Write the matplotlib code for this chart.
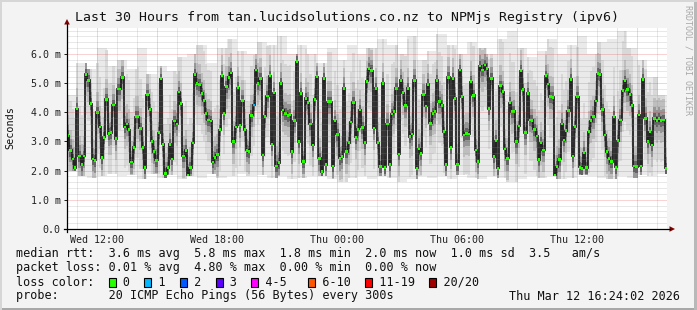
import matplotlib
matplotlib.use("Agg")
import matplotlib.pyplot as plt
from matplotlib.patches import Rectangle, Polygon
from matplotlib.lines import Line2D
import numpy as np

# ---------------- data ----------------
title = "Last 30 Hours from tan.lucidsolutions.co.nz to NPMjs Registry (ipv6)"
y_label = "Seconds"
span_hours = 30.0
x_tick_hours = [1.5, 7.5, 13.5, 19.5, 25.5]
x_tick_labels = ["Wed 12:00", "Wed 18:00", "Thu 00:00", "Thu 06:00", "Thu 12:00"]
y_tick_values = [0, 1, 2, 3, 4, 5, 6]
y_tick_labels = ["0.0", "1.0 m", "2.0 m", "3.0 m", "4.0 m", "5.0 m", "6.0 m"]

# median rtt per sample (ms), read left to right
median_ms = [
    3.2, 2.7, 2.4, 2.1, 4.13, 2.5, 2.2, 2.5, 5.3, 5.1, 4.3, 2.4, 2.35, 4.0, 3.5, 2.45,
    3.14, 4.45, 3.27, 3.3, 4.25, 3.1, 4.8, 4.8, 5.2, 3.5, 3.6, 3.4, 2.3, 2.8, 3.85, 3.85,
    3.45, 2.8, 2.1, 4.6, 4.1, 3.0, 2.65, 2.35, 3.3, 5.15, 2.9, 1.9, 2.1, 2.9, 2.4, 3.7,
    3.6, 4.7, 4.3, 2.5, 2.7, 1.85, 2.1, 2.95, 5.3, 5.0, 4.95, 4.65, 4.4, 3.97, 3.74, 3.7,
    2.3, 2.45, 2.55, 3.4, 5.25, 3.97, 4.88, 5.2, 5.35, 2.99, 3.5, 4.85, 3.55, 4.4, 3.4, 2.7,
    2.65, 3.9, 4.25, 5.45,
    5.0, 5.16, 2.54, 3.87, 4.56, 5.25, 2.91, 4.67, 2.16, 2.27, 5.0, 4.08, 3.96, 3.9, 3.92, 2.65,
    3.71, 5.74, 2.99, 4.65, 2.31, 4.48, 4.33, 3.6, 2.88, 4.45, 5.22, 2.42, 1.96, 5.16, 2.2, 4.36,
    4.36, 2.16, 3.71, 3.24, 2.42, 2.48, 4.82, 2.65, 2.96, 3.67, 4.34, 3.14, 3.42, 4.08, 3.49, 2.96,
    5.07, 5.5, 5.43, 3.46, 4.82, 2.96, 2.14, 4.99, 2.12, 3.6, 2.2, 3.94, 4.02, 4.82, 2.57, 5.1,
    4.67, 4.24, 4.82, 3.17, 3.26, 5.1, 2.08, 2.74, 2.59,
    4.6, 4.22, 4.96, 3.62, 3.96, 4.02, 5.1, 4.36, 4.24, 3.33, 2.2, 5.2, 2.8, 5.16, 4.48, 2.22,
    5.45, 4.53, 3.22, 3.28, 3.26, 5.05, 4.59, 2.71, 2.31, 5.59, 5.45, 5.62, 5.5, 4.13, 5.16, 2.48,
    3.03, 2.08, 4.91, 4.71, 2.74, 2.42, 4.33, 4.02, 4.04, 2.99, 3.53, 5.43, 4.79, 3.3, 4.65, 3.74,
    3.72, 3.42, 3.19, 2.37, 2.96, 2.71, 5.25, 4.97, 4.53, 4.51, 1.85, 2.14, 2.39, 3.6, 3.05, 3.37,
    4.05, 5.13, 2.5, 3.51, 4.53, 2.12, 2.08, 2.62, 2.1, 3.33, 3.71, 3.85, 4.39, 5.33, 5.3, 4.1,
    3.22, 2.65, 2.42, 2.31, 3.85, 2.12, 3.03, 3.74, 4.74, 5.08, 4.79, 4.62, 4.24, 2.16, 2.14, 3.91,
    2.16, 5.13, 3.79, 2.99, 3.33, 2.88, 3.79, 3.71, 3.79, 3.71, 3.74, 2.08,
]
# samples with packet loss (index, lost pings)
loss_sample_index = [82]
loss_sample_count = [1]

# smoke envelope per half hour (ms)
smoke_hi_ms = [
    4.6, 5.7, 5.5, 6.2, 5.6, 5.8, 5.5, 6.2, 5.3, 5.6, 5.4, 5.9, 6.0, 6.3, 5.7, 6.2,
    6.5, 6.1, 6.0, 6.4, 6.3, 6.6, 6.0, 6.3, 6.0, 5.7, 6.2, 5.8, 6.3, 6.0, 6.2, 6.5,
    6.3, 6.0, 6.6, 5.8, 6.1, 6.7, 6.3, 6.0, 6.4, 6.2, 6.0, 6.5, 6.8, 6.2, 5.9, 6.1,
    6.5, 6.0, 6.3, 6.6, 6.0, 6.4, 6.5, 6.8, 6.2, 5.8, 5.2, 4.6,
]
smoke_lo_ms = [
    2.0, 1.8, 1.75, 1.8, 1.9, 1.8, 1.85, 1.7, 1.9, 1.75, 1.85, 1.7, 1.8, 1.75, 1.9, 1.75,
    1.8, 1.9, 1.8, 1.85, 1.75, 1.8, 1.7, 1.75, 1.8, 1.8, 1.7, 1.6, 1.75, 1.8, 1.7, 1.8,
    1.75, 1.6, 1.7, 1.8, 1.75, 1.8, 1.7, 1.85, 1.75, 1.7, 1.8, 1.75, 1.6, 1.7, 1.8, 1.75,
    1.8, 1.7, 1.75, 1.85, 1.8, 1.75, 1.7, 1.8, 1.75, 1.85, 1.8, 1.9,
]

rtt_stats = ["3.6 ms avg", "5.8 ms max", "1.8 ms min", "2.0 ms now", "1.0 ms sd", "3.5   am/s"]
loss_stats = ["0.01 % avg", "4.80 % max", "0.00 % min", "0.00 % now"]
loss_labels = ["0", "1", "2", "3", "4-5", "6-10", "11-19", "20/20"]
loss_colors = ["#26ff00", "#00b8ff", "#0059ff", "#5e00ff", "#ff00ff", "#ff5500", "#ff0000", "#a00000"]
probe_text = "20 ICMP Echo Pings (56 Bytes) every 300s"
stamp_text = "Thu Mar 12 16:24:02 2026"
side_text = "RRDTOOL / TOBI OETIKER"

# ---------------- layout ----------------
W, H, DPI = 697, 310, 100
MONO = "DejaVu Sans Mono"
plt.rcParams["font.family"] = [MONO, "DejaVu Sans"]

def fx(px):
    return px / W

def fy(py):
    return 1 - py / H

fig = plt.figure(figsize=(W / DPI, H / DPI), dpi=DPI, facecolor="#F3F3F3")

L, R, T, B = 67, 667, 28, 229
ax = fig.add_axes([fx(L), fy(B), (R - L) / W, (B - T) / H])
ax.set_facecolor("white")
ymax = (B - T) / 29.17
ax.set_xlim(0, span_hours)
ax.set_ylim(0, ymax)
for s in ax.spines.values():
    s.set_visible(False)

med = np.array(median_ms)
n = len(med)
edges = np.linspace(0, span_hours, n + 1)
dt = edges[1] - edges[0]
left = edges[:-1]
mid = left + dt / 2

# smoke: faint half-hour envelope + per-sample graded streaks clipped to it
sedges = np.linspace(0, span_hours, len(smoke_hi_ms) + 1)
ax.stairs(smoke_hi_ms, sedges, baseline=smoke_lo_ms, fill=True, color="#EAEAEA", lw=0, zorder=1)
bin_of = np.minimum((mid / (sedges[1] - sedges[0])).astype(int), len(smoke_hi_ms) - 1)
s_hi = np.array(smoke_hi_ms)[bin_of]
s_lo = np.array(smoke_lo_ms)[bin_of]
layers = [(1.4, 1.7, "#D8D8D8", 2), (0.75, 0.7, "#BEBEBE", 3), (0.42, 0.38, "#969696", 3.5),
          (0.22, 0.18, "#636363", 4)]
for below, above, col, z in layers:
    bot = np.maximum(med - below, s_lo)
    top = np.minimum(med + above, s_hi)
    ax.bar(left, top - bot, bottom=bot, width=dt, align="edge",
           color=col, linewidth=0, zorder=z)

# median line
ax.stairs(med, edges, baseline=None, color="#1A1A1A", lw=1.25, zorder=5)

# loss colored markers
cols = [loss_colors[0]] * n
for idx, cnt in zip(loss_sample_index, loss_sample_count):
    cols[idx] = loss_colors[cnt]
sw = 1.4 / 29.17
ax.bar(left, np.full(n, 2 * sw), bottom=med - sw, width=dt, align="edge",
       color=cols, linewidth=0, zorder=6)

# grid
minor_c = (0.55, 0.55, 0.55, 0.38)
major_c = (0.85, 0.15, 0.15, 0.40)
dots = (0, (1, 1))
for h in np.arange(0.5, span_hours, 1.0):
    is_major = abs(((h - 1.5) / 3.0) - round((h - 1.5) / 3.0)) < 1e-6
    ax.axvline(h, color=major_c if is_major else minor_c, lw=0.72, ls=dots, zorder=7)
for v in np.arange(0.2, ymax, 0.2):
    is_major = abs(v - round(v)) < 1e-6
    ax.axhline(v, color=major_c if is_major else minor_c, lw=0.72, ls=dots, zorder=7)

# ticks
ax.set_xticks(x_tick_hours, x_tick_labels)
ax.set_yticks(y_tick_values, y_tick_labels)
ax.tick_params(axis="x", length=0, pad=4.2, labelsize=7.2, colors="#222222")
ax.tick_params(axis="y", length=2.2, width=0.72, pad=2.3, labelsize=7.2, colors="#222222")
for lab in ax.get_xticklabels() + ax.get_yticklabels():
    lab.set_family(MONO)

# axes lines and arrows (pixel coordinates)
def pline(x0, y0, x1, y1, **kw):
    fig.add_artist(Line2D([fx(x0), fx(x1)], [fy(y0), fy(y1)], transform=fig.transFigure, **kw))

pline(L, B + 3, L, 24, color="black", lw=0.9)
pline(L - 3, B, R + 3, B, color="black", lw=0.9)
fig.add_artist(Polygon([[fx(L - 2.8), fy(24.5)], [fx(L + 2.8), fy(24.5)], [fx(L), fy(19)]],
                       closed=True, transform=fig.transFigure, color="#800000", lw=0))
fig.add_artist(Polygon([[fx(R + 2.5), fy(B - 2.8)], [fx(R + 2.5), fy(B + 2.8)], [fx(R + 8), fy(B)]],
                       closed=True, transform=fig.transFigure, color="#800000", lw=0))

# titles
fig.text(fx(347), fy(18), title, ha="center", va="center", fontsize=9.5, family=MONO, color="#111111")
fig.text(fx(10), fy(128), y_label, ha="center", va="center", rotation=90, fontsize=7.3,
         family=MONO, color="#111111")
fig.text(fx(688), fy(5), side_text, ha="center", va="top", rotation=270, fontsize=6.0,
         family=MONO, color="#A8A8A8")

# legend
LEG_FS = 8.5
cw = LEG_FS * DPI / 72 * 0.6021
x0 = 16
rows_y = [254, 268, 282, 296]
kw = dict(ha="left", va="center", fontsize=LEG_FS, family=MONO, color="#111111")
fig.text(fx(x0), fy(rows_y[0]), "median rtt:  " + "  ".join(rtt_stats), **kw)
fig.text(fx(x0), fy(rows_y[1]), "packet loss: " + "  ".join(loss_stats), **kw)

box_cols = [13, 18, 23, 28, 33, 41, 49, 58]
chars = list("loss color:".ljust(66))
for c, lab in zip(box_cols, loss_labels):
    for k, ch in enumerate(lab):
        chars[c + 2 + k] = ch
fig.text(fx(x0), fy(rows_y[2]), "".join(chars).rstrip(), **kw)
for c, col in zip(box_cols, loss_colors):
    bx = x0 + c * cw + 0.5
    fig.add_artist(Rectangle((fx(bx), fy(rows_y[2] + 4.5)), 7 / W, 9 / H, transform=fig.transFigure,
                             facecolor=col, edgecolor="black", lw=0.8))

fig.text(fx(x0), fy(rows_y[3]), "probe:       " + probe_text, **kw)
fig.text(fx(680), fy(rows_y[3]), stamp_text, ha="right", va="center", fontsize=LEG_FS,
         family=MONO, color="#111111")

# frame shading
fig.add_artist(Rectangle((0, 0), 1, 2 / H, transform=fig.transFigure, color="#A8A8A8", lw=0))
fig.add_artist(Rectangle((1 - 3 / W, 0), 3 / W, 1, transform=fig.transFigure, color="#B8B8B8", lw=0))
fig.add_artist(Rectangle((0, 1 - 2 / H), 1, 2 / H, transform=fig.transFigure, color="#D6D6D6", lw=0))
fig.add_artist(Rectangle((0, 0), 2 / W, 1, transform=fig.transFigure, color="#D6D6D6", lw=0))

fig.savefig("out.png", dpi=DPI, facecolor=fig.get_facecolor())
